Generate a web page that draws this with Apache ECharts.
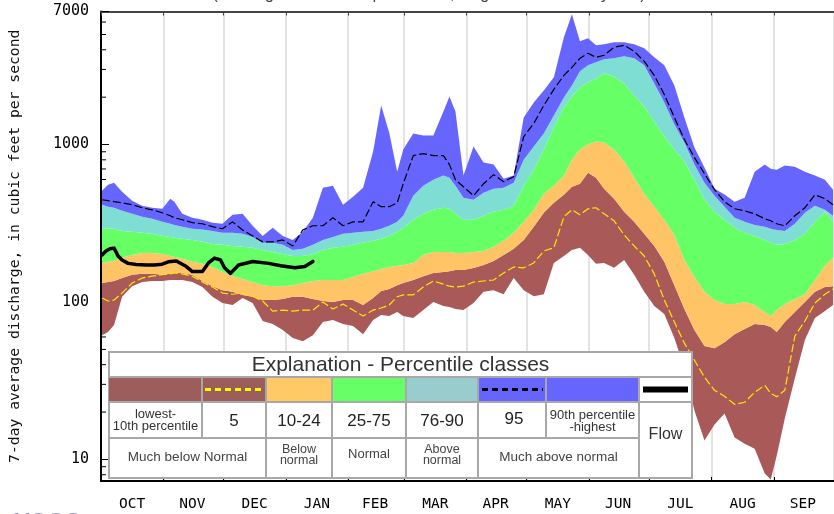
<!DOCTYPE html>
<html><head><meta charset="utf-8">
<script src="https://cdn.jsdelivr.net/npm/echarts@6/dist/echarts.min.js"></script>
<style>html,body{margin:0;padding:0;background:#fff}#c{width:834px;height:514px}</style>
</head><body><div id="c"></div>
<script>
// ---------- DATA ----------
const months = ['OCT','NOV','DEC','JAN','FEB','MAR','APR','MAY','JUN','JUL','AUG','SEP'];
const monthLengths = [31,30,31,31,28,31,30,31,30,31,31,30];
const yTickLabels = [10, 100, 1000, 7000];
const minorTickValues = [8,9,20,30,40,50,60,70,80,90,200,300,400,500,600,700,800,900,2000,3000,4000,5000,6000];

// day index counted from Oct 1
const days = [0,3,6,10,15,20,25,30,34,36,40,45,50,55,60,65,70,75,80,85,90,95,100,105,110,115,120,125,130,135,139,143,147,150,155,160,165,170,173,176,180,185,190,195,200,205,210,215,220,225,230,234,238,242,246,250,255,260,265,270,275,280,285,290,295,300,305,310,315,320,325,330,333,336,340,345,350,355,360,364];

const maxQ = [509,556,573,502,440,409,397,391,453,434,363,343,333,319,314,358,363,305,263,296,263,248,279,343,532,548,415,467,532,902,1772,1192,673,929,1175,1141,1141,1623,2022,1623,635,971,768,746,607,635,1486,1853,2208,2672,4805,6730,4529,4733,4272,4337,4465,4465,4337,4087,3581,3186,2376,1486,957,714,525,481,434,460,673,746,703,693,735,724,673,635,598,517];
const p95 = [446,440,434,427,415,397,385,369,353,343,333,319,314,301,292,323,287,263,241,241,248,227,287,305,305,343,305,323,323,434,403,403,427,564,851,876,851,851,746,598,540,473,564,644,581,625,1125,1361,1772,2240,2750,3094,3530,3800,3581,3690,4150,4272,3910,3378,2750,2081,1486,1076,826,654,517,434,391,380,363,338,328,314,305,353,397,480,453,415];
const p90 = [415,403,397,380,363,348,338,323,314,309,301,292,289,283,275,275,271,259,238,238,231,214,218,231,248,259,271,275,279,283,292,305,323,353,473,548,598,635,616,548,460,446,495,525,532,573,802,971,1175,1530,1992,2376,2917,3186,3329,3478,3530,3635,3530,3186,2446,1853,1340,1030,746,573,473,403,343,323,309,301,292,287,283,314,369,409,385,353];
const p75 = [292,292,292,283,279,275,271,263,259,256,252,248,241,234,231,227,224,221,214,208,202,196,196,202,214,221,224,231,238,245,252,263,279,296,333,363,385,397,391,363,333,333,353,374,385,409,548,693,929,1283,1721,2022,2306,2483,2632,2833,2710,2446,2051,1746,1401,1125,929,780,598,446,374,333,296,275,263,248,238,231,234,248,271,323,374,323];
const p25 = [177,180,182,191,199,205,205,202,196,194,188,180,175,167,155,146,140,134,128,126,126,128,132,136,138,138,138,144,151,157,162,167,170,172,177,199,208,208,208,205,205,208,211,224,245,275,323,385,488,548,635,802,929,1000,1045,1030,929,780,616,488,403,333,267,185,144,116,103,97,97,100,95.7,86.4,81.4,88.9,97,104.5,112,138,170,191];
const p10 = [132,134,136,142,149,151,151,149,151,153,153,149,136,126,119,116,111,108,103,103,104.5,108,108,104.5,101.5,100,103,103,95.7,106,117.5,121,128,132,138,146,153,155,157,160,160,164.5,172,182,199,218,248,301,369,427,480,540,564,663,616,525,453,374,323,271,227,180,128,90.2,66.4,52.5,50.9,55.6,62.5,67.3,72.4,71.4,69.3,64.4,74.6,86.4,100,116,124.6,126];
const p05 = [106,101.5,103,114,132,142,146,149,151,153,151,146,134,124.6,114,112,114,109,101.5,87.6,88.9,87.6,88.9,88.9,100,90.2,97,88.9,81.4,88.9,91.6,95.7,108,111,111,124.6,136,130,126,124.6,126,134,136,138,153,167,165,177,211,221,348,385,358,391,397,363,328,267,227,196,151,103,74.6,54.8,42.7,33.3,27.5,25.2,22.4,23.1,26.7,29.6,26.3,25.0,27.5,60.8,75.7,98.5,112,121];
const minQ = [61.6,64.4,71.4,108,126,134,136,136,138,138,138,134,124.6,108,98.5,95.7,106,98.5,75.7,72.4,66.4,59.0,56.4,61.6,74.6,76.8,72.4,70.3,62.5,76.8,82.6,81.4,86.4,81.4,79.1,88.9,100,94.3,92.9,90.2,88.9,98.5,116,119,112,142,119,109,112,177,196,214,221,199,175,177,165,185,149,116,94.3,83.9,59.0,38.0,20.5,13.2,16.7,19.6,13.8,12.6,11.7,8.14,7.46,10.6,18.2,32.8,57.3,79.1,87.6,95.7];

const flowDays = [0,2,4,6,8,10,13,17,22,26,30,33,37,42,45,50,53,56,59,61,64,68,75,83,89,96,101,105];
const flowQ = [199,211,218,220,196,185,176,173,172,172,174,180,182,168,156,156,177,190,185,165,152,172,181,176,170,165,168,181];

// legend texts
const legendTitle = 'Explanation - Percentile classes';
const legendNums = ['lowest-\n10th percentile','5','10-24','25-75','76-90','95','90th percentile\n-highest'];
const legendCats = ['Much below Normal','Below\nnormal','Normal','Above\nnormal','Much above normal'];

// ---------- BUILD ----------
const categories = [];
const monthStart = new Set();
const labelAt = {};
let dd = 0;
monthLengths.forEach((len, m) => {
  monthStart.add(dd);
  labelAt[dd + Math.floor((len - 1) / 2)] = months[m];
  for (let k = 1; k <= len; k++) categories.push(months[m] + ' ' + k);
  dd += len;
});

const pairs = arr => days.map((x, i) => [x, arr[i]]);
const band = (hi, lo) => days.map((x, i) => [x, +(hi[i] - lo[i]).toFixed(3)]);

const MONO = 'DejaVu Sans Mono';

const areaSeries = (name, data, color) => ({
  name, type: 'line', stack: 'pct', data, symbol: 'none', silent: true,
  lineStyle: { opacity: 0, width: 0 }, areaStyle: { color, opacity: 1 }
});

// legend graphic
const cols = [109,202,266,332,406,478,546,639,692];
const Y0 = 352, YT = 377, YC = 402, YN = 438, Y1 = 478;
const G = [];
const gray = '#a8a8a8';
G.push({ type:'rect', shape:{x:cols[0], y:Y0, width:cols[8]-cols[0], height:Y1-Y0}, style:{fill:'#fff', stroke:gray, lineWidth:2} });
G.push({ type:'text', style:{ text: legendTitle, x:(cols[0]+cols[8])/2, y:365.5, align:'center', verticalAlign:'middle', font:'21px "Liberation Sans"', fill:'#333' } });
const swatch = (xa, xb, color) => G.push({ type:'rect', shape:{x:xa, y:YT, width:xb-xa, height:YC-YT}, style:{fill:color} });
swatch(cols[0], cols[2], '#9d5d5b');
swatch(cols[2], cols[3], '#ffc966');
swatch(cols[3], cols[4], '#66ff66');
swatch(cols[4], cols[5], '#99cccc');
swatch(cols[5], cols[7], '#6666ff');
G.push({ type:'line', shape:{x1:205, y1:389.5, x2:264, y2:389.5}, style:{stroke:'#ffff00', lineWidth:3, lineDash:[6,4]} });
G.push({ type:'line', shape:{x1:482, y1:389.5, x2:543, y2:389.5}, style:{stroke:'#000', lineWidth:3, lineDash:[6,4]} });
G.push({ type:'line', shape:{x1:643, y1:389.5, x2:688, y2:389.5}, style:{stroke:'#000', lineWidth:6} });
const hl = (y, xa, xb) => G.push({ type:'line', shape:{x1:xa, y1:y, x2:xb, y2:y}, style:{stroke:gray, lineWidth:2} });
const vl = (x, ya, yb) => G.push({ type:'line', shape:{x1:x, y1:ya, x2:x, y2:yb}, style:{stroke:gray, lineWidth:2} });
hl(YT, cols[0], cols[8]); hl(YC, cols[0], cols[8]); hl(YN, cols[0], cols[7]);
vl(cols[1], YT, YN); vl(cols[2], YT, Y1); vl(cols[3], YT, Y1); vl(cols[4], YT, Y1);
vl(cols[5], YT, Y1); vl(cols[6], YT, YN); vl(cols[7], YT, Y1);
const txt = (t, x, y, size, color, lh) => G.push({ type:'text', style:{ text:t, x, y, align:'center', verticalAlign:'middle', font: size + 'px "Liberation Sans"', fill: color, lineHeight: lh || size } });
const mid = (a, b) => (cols[a] + cols[b]) / 2;
txt(legendNums[0], mid(0,1), 420, 13, '#333', 12);
txt(legendNums[1], mid(1,2), 421, 17, '#222');
txt(legendNums[2], mid(2,3), 421, 17, '#222');
txt(legendNums[3], mid(3,4), 421, 17, '#222');
txt(legendNums[4], mid(4,5), 421, 17, '#222');
txt(legendNums[5], 514, 419, 17, '#222');
txt(legendNums[6], mid(6,7), 421.5, 13, '#333', 12);
txt('Flow', mid(7,8), 435, 16, '#333');
txt(legendCats[0], mid(0,2), 457, 13.5, '#444');
txt(legendCats[1], mid(2,3), 455, 12.5, '#444', 10.5);
txt(legendCats[2], mid(3,4), 454, 13, '#444');
txt(legendCats[3], mid(4,5), 455, 12.5, '#444', 10.5);
txt(legendCats[4], mid(5,7), 457, 13.5, '#444');
// clipped header & logo
G.push({ type:'text', style:{ text:'(Drainage area: 147 square miles, length of record: 80 years)', x:429, y:-5, align:'center', verticalAlign:'middle', font:'16px "Liberation Sans"', fill:'#444' } });
G.push({ type:'text', style:{ text:'≈USGS', x:0, y:511, align:'left', verticalAlign:'top', font:'bold 24px "Liberation Sans"', fill:'#a49bd6' } });

const chart = echarts.init(document.getElementById('c'), null, { renderer: 'canvas' });
chart.setOption({
  animation: false,
  backgroundColor: '#fff',
  grid: { left: 100, top: 11.5, right: -4.7, bottom: 33, containLabel: false },
  xAxis: [{
    type: 'category', data: categories, boundaryGap: true,
    axisLine: { show: true, lineStyle: { color: '#000', width: 2 } },
    axisTick: { show: true, inside: true, length: 4, interval: i => monthStart.has(i), lineStyle: { color: '#000' } },
    axisLabel: { interval: i => labelAt[i] !== undefined, formatter: (v, i) => labelAt[i] || '', fontFamily: MONO, fontSize: 14.5, color: '#000', margin: 16 },
    splitLine: { show: true, interval: i => monthStart.has(i), lineStyle: { color: '#dadada', width: 1.5 } }
  }, {
    type: 'category', data: categories, boundaryGap: true, position: 'top',
    axisLine: { show: true, lineStyle: { color: '#444', width: 2 } },
    axisTick: { show: true, inside: true, length: 4, interval: i => monthStart.has(i), lineStyle: { color: '#444' } },
    axisLabel: { show: false }, splitLine: { show: false }
  }],
  yAxis: {
    type: 'log', logBase: 10, min: 7.3, max: 7000,
    name: '7-day average discharge, in cubic feet per second',
    nameLocation: 'middle', nameGap: 78,
    nameTextStyle: { fontFamily: MONO, fontSize: 14.7, color: '#111' },
    axisLine: { show: true, lineStyle: { color: '#000', width: 2 } },
    axisTick: { show: true, inside: true, length: 8, lineStyle: { color: '#000' } },
    axisLabel: { showMinLabel: false, showMaxLabel: true, formatter: v => yTickLabels.indexOf(Math.round(v)) >= 0 ? String(Math.round(v)) : '', fontFamily: MONO, fontSize: 15, color: '#000', margin: 12 },
    splitLine: { show: false }
  },
  series: [
    { name: 'base', type: 'line', stack: 'pct', data: pairs(minQ), symbol: 'none', silent: true, lineStyle: { opacity: 0, width: 0 } },
    areaSeries('min-10', band(p10, minQ), '#a95a58'),
    areaSeries('10-24', band(p25, p10), '#ffc466'),
    areaSeries('25-75', band(p75, p25), '#66ff66'),
    areaSeries('76-90', band(p90, p75), '#7fded3'),
    areaSeries('90-max', band(maxQ, p90), '#6666ff'),
    { name: 'p5', type: 'line', data: pairs(p05), symbol: 'none', silent: true, lineStyle: { color: '#ffe600', width: 1.2, type: [8, 3] } },
    { name: 'p95', type: 'line', data: pairs(p95), symbol: 'none', silent: true, lineStyle: { color: '#000', width: 1.2, type: [8, 3] } },
    { name: 'flow', type: 'line', data: flowDays.map((x, i) => [x, flowQ[i]]), symbol: 'none', silent: true, lineStyle: { color: '#000', width: 3.5, join: 'round', cap: 'round' } },
    { name: 'minorTicks', type: 'custom', silent: true, clip: false,
      data: minorTickValues.map(v => [0, v]),
      encode: { x: 0, y: 1 },
      renderItem: (params, api) => {
        const p = api.coord([0, api.value(1)]);
        const x0 = params.coordSys.x;
        return { type: 'line', shape: { x1: x0, y1: p[1], x2: x0 + 5, y2: p[1] }, style: { stroke: '#000', lineWidth: 1 } };
      } }
  ],
  graphic: { elements: G.map(e => Object.assign({ z: 100, silent: true }, e)) }
});
</script>
</body></html>
